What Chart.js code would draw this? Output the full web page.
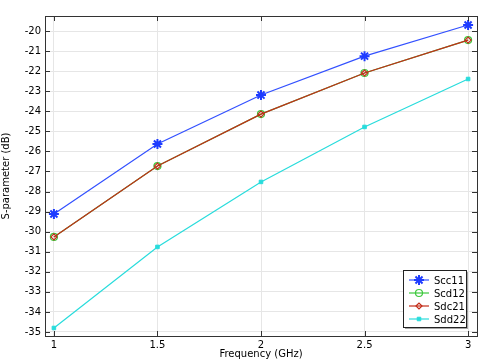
<!DOCTYPE html>
<html>
<head>
<meta charset="utf-8">
<script src="https://cdn.jsdelivr.net/npm/chart.js@4.4.1/dist/chart.umd.min.js"></script>
<style>
  html, body { margin: 0; padding: 0; background: #fff; }
  #wrap { width: 496px; height: 360px; }
</style>
</head>
<body>
<div id="wrap"><canvas id="chart" width="496" height="360"></canvas></div>
<script>
var freq = [1, 1.5, 2, 2.5, 3];
var scc11 = [-29.12, -25.63, -23.19, -21.25, -19.70];
var scd12 = [-30.26, -26.73, -24.14, -22.09, -20.45];
var sdc21 = [-30.26, -26.73, -24.14, -22.09, -20.45];
var sdd22 = [-34.80, -30.76, -27.52, -24.78, -22.39];
var xTicks = [1, 1.5, 2, 2.5, 3];
var yTicks = [-20, -21, -22, -23, -24, -25, -26, -27, -28, -29, -30, -31, -32, -33, -34, -35];

function pts(ys) {
  var out = [];
  for (var i = 0; i < freq.length; i++) out.push({ x: freq[i], y: ys[i] });
  return out;
}

var FONT = "'DejaVu Sans', sans-serif";

// inward tick marks on all four sides + legend box
var decor = {
  id: 'decor',
  afterDraw: function (chart) {
    var ctx = chart.ctx, a = chart.chartArea;
    var xs = chart.scales.x, ys = chart.scales.y;
    ctx.save();
    ctx.strokeStyle = '#333';
    ctx.lineWidth = 1;
    ctx.beginPath();
    xTicks.forEach(function (v) {
      var px = Math.round(xs.getPixelForValue(v)) + 0.5;
      ctx.moveTo(px, a.bottom); ctx.lineTo(px, a.bottom - 5);
      ctx.moveTo(px, a.top); ctx.lineTo(px, a.top + 5);
    });
    yTicks.forEach(function (v) {
      var py = Math.round(ys.getPixelForValue(v)) + 0.5;
      ctx.moveTo(a.left, py); ctx.lineTo(a.left + 5, py);
      ctx.moveTo(a.right, py); ctx.lineTo(a.right - 5, py);
    });
    ctx.stroke();
    ctx.strokeStyle = '#333';
    ctx.strokeRect(Math.round(a.left) + 0.5, Math.round(a.top) + 0.5,
      Math.round(a.right - a.left), Math.round(a.bottom - a.top));

    // legend
    var bx = 403, by = 270, bw = 63, bh = 57;
    ctx.fillStyle = 'rgba(0,0,0,0.35)';
    ctx.fillRect(bx + 2, by + 2, bw, bh);
    ctx.fillStyle = '#fff';
    ctx.fillRect(bx, by, bw, bh);
    ctx.strokeStyle = '#222';
    ctx.strokeRect(bx + 0.5, by + 0.5, bw, bh);
    ctx.font = '10px ' + FONT;
    ctx.textBaseline = 'middle';
    chart.data.datasets.forEach(function (ds, i) {
      var y = by + 10 + i * 13;
      ctx.strokeStyle = ds.borderColor;
      ctx.lineWidth = 1.2;
      ctx.beginPath();
      ctx.moveTo(bx + 6, y); ctx.lineTo(bx + 26, y);
      ctx.stroke();
      ctx.fillStyle = ds.backgroundColor;
      ctx.strokeStyle = ds.pointBorderColor || ds.borderColor;
      ctx.lineWidth = ds.pointBorderWidth || 1.2;
      Chart.helpers.drawPoint(ctx, {
        pointStyle: ds.pointStyle, radius: ds.pointRadius, borderWidth: ds.pointBorderWidth || 1.2
      }, bx + 16, y);
      ctx.fillStyle = '#000';
      ctx.fillText(ds.label, bx + 31, y + 1);
    });
    ctx.restore();
  }
};

new Chart(document.getElementById('chart'), {
  type: 'line',
  data: {
    datasets: [
      {
        label: 'Scc11', data: pts(scc11), order: 0,
        borderColor: 'rgb(50,80,255)', backgroundColor: 'rgb(50,80,255)',
        borderWidth: 1.2, pointStyle: 'star', pointRadius: 5, pointBorderWidth: 2,
        pointBorderColor: 'rgb(30,60,255)'
      },
      {
        label: 'Scd12', data: pts(scd12), order: 3,
        borderColor: 'rgb(60,200,60)', backgroundColor: 'rgba(0,0,0,0)',
        borderWidth: 1.2, pointStyle: 'circle', pointRadius: 3.5, pointBorderWidth: 1.2
      },
      {
        label: 'Sdc21', data: pts(sdc21), order: 1,
        borderColor: 'rgb(195,45,25)', backgroundColor: 'rgba(0,0,0,0)',
        borderWidth: 1.2, pointStyle: 'rectRot', pointRadius: 3, pointBorderWidth: 1.2
      },
      {
        label: 'Sdd22', data: pts(sdd22), order: 2,
        borderColor: 'rgb(40,220,220)', backgroundColor: 'rgb(40,220,220)',
        borderWidth: 1.2, pointStyle: 'rect', pointRadius: 2.5, pointBorderWidth: 1
      }
    ]
  },
  options: {
    responsive: false,
    animation: false,
    layout: { padding: { top: 16, right: 19, left: 0, bottom: 0 } },
    plugins: { legend: { display: false }, tooltip: { enabled: false } },
    scales: {
      x: {
        type: 'linear', min: 0.957, max: 3.043,
        afterBuildTicks: function (s) { s.ticks = xTicks.map(function (v) { return { value: v }; }); },
        afterFit: function (s) { s.height = 24; },
        grid: { color: '#e6e6e6', drawTicks: false },
        border: { display: false },
        ticks: {
          color: '#000', font: { family: FONT, size: 10 }, padding: 3, maxRotation: 0,
          callback: function (v) { return String(v); }
        },
        title: { display: true, text: 'Frequency (GHz)', color: '#000', font: { family: FONT, size: 10 }, padding: 0 }
      },
      y: {
        type: 'linear', min: -35.2, max: -19.25,
        afterBuildTicks: function (s) { s.ticks = yTicks.map(function (v) { return { value: v }; }); },
        afterFit: function (s) { s.width = 45; },
        grid: { color: '#e6e6e6', drawTicks: false },
        border: { display: false },
        ticks: {
          color: '#000', font: { family: FONT, size: 10 }, padding: 4,
          callback: function (v) { return String(v); }
        },
        title: { display: true, text: 'S-parameter (dB)', color: '#000', font: { family: FONT, size: 10 }, padding: 0 }
      }
    }
  },
  plugins: [decor]
});
</script>
</body>
</html>
